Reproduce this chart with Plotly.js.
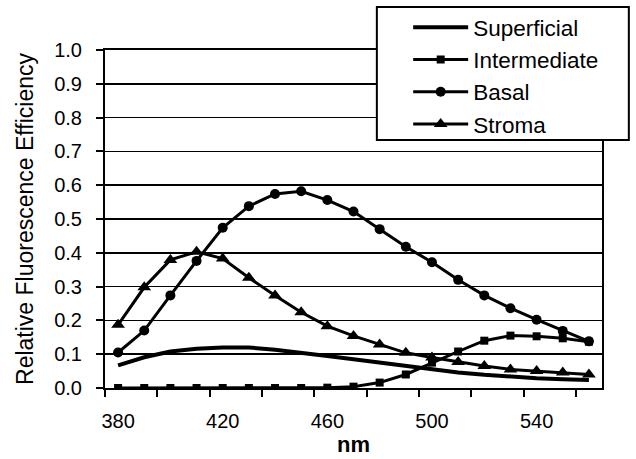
<!DOCTYPE html>
<html>
<head>
<meta charset="utf-8">
<script src="https://cdn.plot.ly/plotly-3.0.1.min.js"></script>
<style>html,body{margin:0;padding:0;background:#fff;}#chart{width:636px;height:459px;}</style>
</head>
<body>
<div id="chart"></div>
<script>
const wavelength = [380, 390, 400, 410, 420, 430, 440, 450, 460, 470, 480, 490, 500, 510, 520, 530, 540, 550, 560];
const superficial = [0.067, 0.091, 0.108, 0.116, 0.12, 0.12, 0.113, 0.105, 0.095, 0.085, 0.075, 0.064, 0.055, 0.046, 0.039, 0.033, 0.029, 0.026, 0.024];
const intermediate = [0, 0, 0, 0, 0, 0, 0, 0, 0.001, 0.004, 0.016, 0.04, 0.075, 0.108, 0.14, 0.155, 0.153, 0.147, 0.137];
const basal = [0.105, 0.17, 0.274, 0.376, 0.474, 0.538, 0.574, 0.582, 0.556, 0.522, 0.47, 0.418, 0.372, 0.32, 0.274, 0.236, 0.202, 0.169, 0.138];
const stroma = [0.187, 0.298, 0.379, 0.403, 0.383, 0.326, 0.274, 0.224, 0.183, 0.154, 0.129, 0.104, 0.09, 0.077, 0.065, 0.055, 0.05, 0.046, 0.04];
const xTickVals = [380, 420, 460, 500, 540];
const xTickText = ['380', '420', '460', '500', '540'];
const yTickVals = [0, 0.1, 0.2, 0.3, 0.4, 0.5, 0.6, 0.7, 0.8, 0.9, 1.0];
const yTickText = ['0.0', '0.1', '0.2', '0.3', '0.4', '0.5', '0.6', '0.7', '0.8', '0.9', '1.0'];

const FONT = 'Liberation Sans, Arial, sans-serif';
const traces = [
  {x: wavelength, y: superficial, name: 'Superficial', mode: 'lines', line: {color: '#000', width: 4}},
  {x: wavelength, y: intermediate, name: 'Intermediate', mode: 'lines+markers', line: {color: '#000', width: 3}, marker: {symbol: 'square', size: 8, color: '#000'}},
  {x: wavelength, y: basal, name: 'Basal', mode: 'lines+markers', line: {color: '#000', width: 3}, marker: {symbol: 'circle', size: 10, color: '#000'}},
  {x: wavelength, y: stroma, name: 'Stroma', mode: 'lines+markers', line: {color: '#000', width: 3}, marker: {symbol: 'triangle-up', size: 12, color: '#000'}}
];

const layout = {
  width: 636, height: 459,
  margin: {l: 105, r: 34, t: 50, b: 71, autoexpand: false},
  paper_bgcolor: '#fff', plot_bgcolor: '#fff',
  font: {family: FONT, color: '#000', size: 20},
  showlegend: true,
  legend: {
    x: 0.61, y: 1.130, xanchor: 'left', yanchor: 'top',
    bgcolor: 'rgba(0,0,0,0)', borderwidth: 0,
    font: {family: FONT, size: 22.5, color: '#000'},
    itemwidth: 55, tracegroupgap: 0
  },
  shapes: [{
    type: 'rect', xref: 'paper', yref: 'paper', layer: 'above',
    x0: 0.547, x1: 1.054, y0: 0.734, y1: 1.127,
    line: {color: '#000', width: 2}, fillcolor: '#fff'
  }],
  xaxis: {
    range: [375, 565], tickmode: 'array', tickvals: xTickVals, ticktext: xTickText,
    ticks: '', showgrid: false, zeroline: false,
    showline: true, linecolor: '#000', linewidth: 2, mirror: true,
    tickfont: {family: FONT, size: 20}, ticklabelstandoff: 14,
    minor: {tick0: 375, dtick: 20, ticks: 'outside', ticklen: 7, tickcolor: '#000', tickwidth: 2, showgrid: false},
    title: {text: '<b>nm</b>', font: {family: FONT, size: 22}, standoff: 2}
  },
  yaxis: {
    range: [0, 1], tickmode: 'array', tickvals: yTickVals, ticktext: yTickText,
    ticks: 'outside', ticklen: 7, tickcolor: '#000', tickwidth: 2,
    showgrid: true, gridcolor: '#000', gridwidth: 1.5, zeroline: false,
    showline: true, linecolor: '#000', linewidth: 2, mirror: true,
    tickfont: {family: FONT, size: 20}, ticklabelstandoff: 10,
    title: {text: 'Relative Fluorescence Efficiency', font: {family: FONT, size: 23}, standoff: 14}
  }
};
Plotly.newPlot('chart', traces, layout, {displayModeBar: false, staticPlot: true});
</script>
</body>
</html>
